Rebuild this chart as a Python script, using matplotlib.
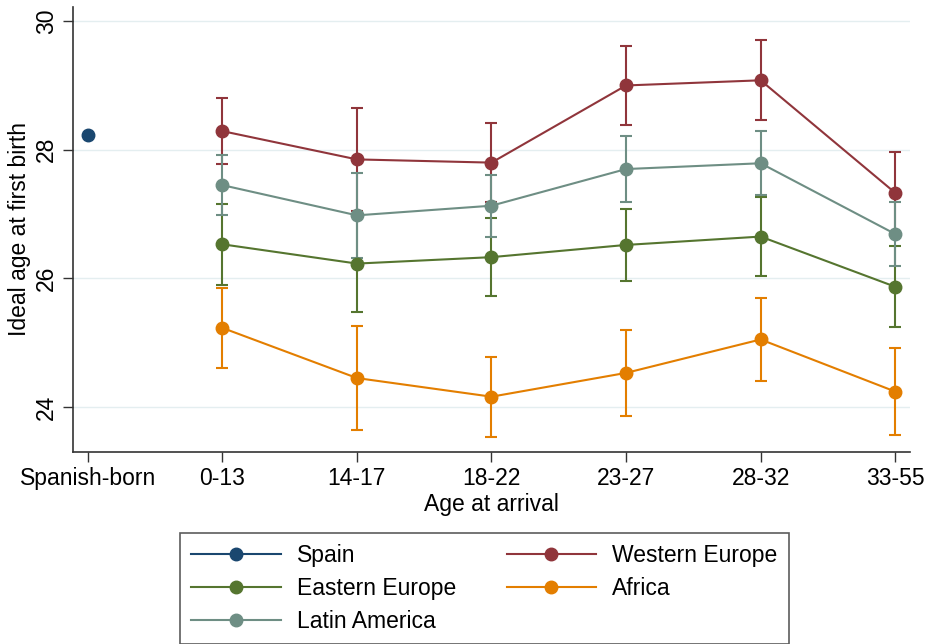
#!/usr/bin/env python
import numpy as np
import matplotlib
matplotlib.use("Agg")
import matplotlib.pyplot as plt

plt.rcParams['font.family'] = ['Liberation Sans', 'DejaVu Sans']

categories = ["Spanish-born", "0-13", "14-17", "18-22", "23-27", "28-32", "33-55"]

spain = [28.23]

western = [28.29, 27.85, 27.80, 29.00, 29.08, 27.33]
western_err = [0.51, 0.80, 0.61, 0.61, 0.62, 0.64]

eastern = [26.53, 26.23, 26.33, 26.52, 26.65, 25.87]
eastern_err = [0.63, 0.76, 0.61, 0.555, 0.61, 0.63]

africa = [25.23, 24.45, 24.16, 24.53, 25.05, 24.24]
africa_err = [0.625, 0.81, 0.62, 0.67, 0.65, 0.68]

latin = [27.45, 26.98, 27.13, 27.70, 27.79, 26.69]
latin_err = [0.465, 0.66, 0.48, 0.51, 0.50, 0.49]

colors = {"Spain": "#1a476f", "Western Europe": "#90353b",
          "Eastern Europe": "#55752f", "Africa": "#e37e00",
          "Latin America": "#6e8e84"}

FS = 16.5


def main():
    fig = plt.figure(figsize=(9.34, 6.44), dpi=100)
    ax = fig.add_axes([73 / 934, 1 - 452 / 644, (910 - 73) / 934, (452 - 7) / 644])

    x = np.arange(1, len(categories))
    handles = {}
    h, = ax.plot([0], spain, marker='o', ms=9, color=colors["Spain"], lw=1.5, zorder=5)
    handles["Spain"] = h

    series = [("Western Europe", western, western_err),
              ("Eastern Europe", eastern, eastern_err),
              ("Africa", africa, africa_err),
              ("Latin America", latin, latin_err)]
    for name, vals, err in series:
        eb = ax.errorbar(x, vals, yerr=err, color=colors[name], marker='o', ms=9,
                         lw=1.5, elinewidth=1.5, capsize=4, capthick=1.5, zorder=3)
        handles[name] = eb.lines[0]

    ax.set_xlim(-0.11, 6.11)
    ax.set_ylim(23.3, 30.22)
    ax.set_xticks(range(len(categories)))
    ax.set_xticklabels(categories, fontsize=FS)
    ax.set_yticks([24, 26, 28, 30])
    ax.set_yticklabels(["24", "26", "28", "30"], fontsize=FS, rotation=90, va='center')
    ax.tick_params(direction='out', length=7, width=1, color='#333333', pad=4)
    ax.grid(axis='y', color='#e4eef0', lw=1)
    ax.set_axisbelow(True)
    for s in ['top', 'right']:
        ax.spines[s].set_visible(False)
    for s in ['left', 'bottom']:
        ax.spines[s].set_color('#333333')
        ax.spines[s].set_linewidth(1.2)

    ax.set_xlabel("Age at arrival", fontsize=FS, labelpad=2)
    ax.set_ylabel("Ideal age at first birth", fontsize=FS, labelpad=3)

    order = ["Spain", "Eastern Europe", "Latin America", "Western Europe", "Africa"]
    leg = fig.legend([handles[k] for k in order], order, ncol=2, fontsize=FS,
                     loc='upper left', bbox_to_anchor=(180 / 934, 1 - 533 / 644),
                     frameon=True, fancybox=False, handlelength=3.9,
                     columnspacing=2.2, labelspacing=0.42, borderpad=0.5,
                     handletextpad=0.7, borderaxespad=0)
    frame = leg.get_frame()
    frame.set_edgecolor('#333333')
    frame.set_linewidth(1.2)

    fig.savefig("out.png", dpi=100)


if __name__ == "__main__":
    main()
